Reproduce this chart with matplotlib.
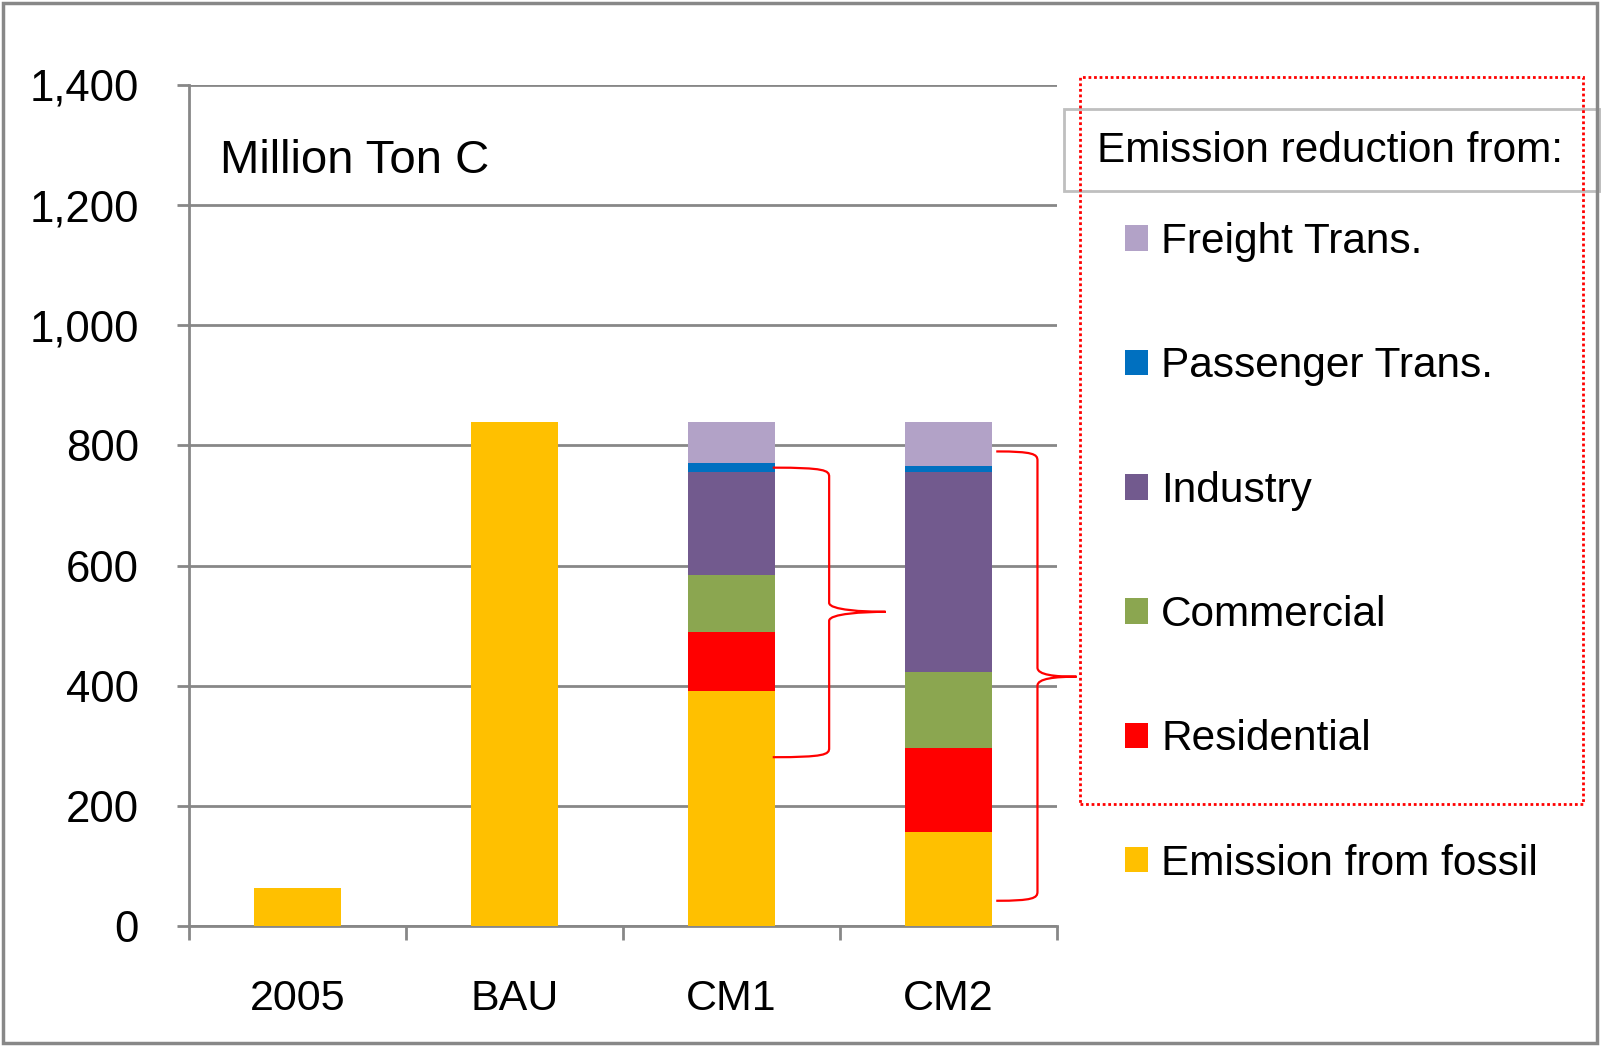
import numpy as np
import matplotlib
matplotlib.use("Agg")
import matplotlib.pyplot as plt
from matplotlib.path import Path
from matplotlib.patches import PathPatch, Rectangle
from matplotlib.ticker import FuncFormatter

plt.rcParams['font.family'] = ['Liberation Sans', 'DejaVu Sans']

categories = ["2005", "BAU", "CM1", "CM2"]
fossil = [63, 839, 391, 156]
residential = [0, 0, 98, 141]
commercial = [0, 0, 95, 125]
industry = [0, 0, 171, 333]
passenger = [0, 0, 16, 11]
freight = [0, 0, 68, 73]

series = [
    ("Emission from fossil", fossil, "#FFC000"),
    ("Residential", residential, "#FF0000"),
    ("Commercial", commercial, "#8BA650"),
    ("Industry", industry, "#725A8E"),
    ("Passenger Trans.", passenger, "#0070C0"),
    ("Freight Trans.", freight, "#B2A2C7"),
]

W, H = 1601, 1047
fig = plt.figure(figsize=(W / 100, H / 100), dpi=100)
ax = fig.add_axes([189 / W, 1 - 926 / H, (1057 - 189) / W, (926 - 85) / H])

x = np.arange(len(categories))
bottom = np.zeros(len(categories))
handles = []
for name, vals, col in series:
    b = ax.bar(x, vals, width=0.4, bottom=bottom, color=col, label=name, zorder=3)
    handles.append(b)
    bottom += np.array(vals)

grid = "#878787"
ax.set_xlim(-0.5, 3.5)
ax.set_ylim(0, 1400)
ax.set_yticks(np.arange(0, 1401, 200))
ax.yaxis.set_major_formatter(FuncFormatter(lambda v, p: f"{int(v):,}"))
ax.yaxis.grid(True, color=grid, lw=2, zorder=0)
ax.tick_params(axis="y", length=9, width=2, color=grid, labelsize=31.5, pad=27)

ax.set_xticks(np.arange(-0.5, 4, 1))
ax.set_xticklabels([])
ax.set_xticks(x, minor=True)
ax.set_xticklabels(categories, minor=True)
ax.tick_params(axis="x", which="major", length=10, width=2, color=grid)
ax.tick_params(axis="x", which="minor", length=0, labelsize=31, pad=38)

for s in ["top", "right"]:
    ax.spines[s].set_visible(False)
for s in ["left", "bottom"]:
    ax.spines[s].set_color(grid)
    ax.spines[s].set_linewidth(2)

ax.text(0.036, 0.91, "Million Ton C", transform=ax.transAxes, fontsize=34,
        va="center", ha="left")


def brace(x0, xv, xtip, ytop, ymid, ybot, r):
    verts = [
        (x0, ytop), (xv - 0.02, ytop), (xv, ytop - r * 0.3), (xv, ytop - r),
        (xv, ymid + r),
        (xv, ymid + r * 0.2), (xtip - 0.1, ymid), (xtip, ymid),
        (xtip - 0.1, ymid), (xv, ymid - r * 0.2), (xv, ymid - r),
        (xv, ybot + r),
        (xv, ybot + r * 0.3), (xv - 0.02, ybot), (x0, ybot),
    ]
    codes = [Path.MOVETO, Path.CURVE4, Path.CURVE4, Path.CURVE4,
             Path.LINETO,
             Path.CURVE4, Path.CURVE4, Path.CURVE4,
             Path.CURVE4, Path.CURVE4, Path.CURVE4,
             Path.LINETO,
             Path.CURVE4, Path.CURVE4, Path.CURVE4]
    ax.add_patch(PathPatch(Path(verts, codes), fill=False, ec="red", lw=1.6,
                           clip_on=False, zorder=5))


brace(2.19, 2.45, 2.71, 763, 523, 281, 15)
brace(3.22, 3.41, 3.59, 790, 415, 42, 15)

# legend
leg = fig.legend(handles=handles[::-1], loc="upper left",
                 bbox_to_anchor=(1104 / W, 1 - 201 / H), frameon=False,
                 fontsize=30.5, handlelength=0.55, handleheight=0.55,
                 handletextpad=0.3, labelspacing=1.99, borderpad=0)

# header box and dotted outline
fig.patches.append(Rectangle((1064 / W, 1 - 191 / H), (1600 - 1064) / W, 82 / H,
                             transform=fig.transFigure, fill=False, ec="#BFBFBF", lw=2))
fig.text(1097 / W, 1 - 151 / H, "Emission reduction from:", fontsize=30.5,
         va="center", ha="left")
fig.patches.append(Rectangle((1080 / W, 1 - 804 / H), (1583 - 1080) / W, (804 - 77) / H,
                             transform=fig.transFigure, fill=False, ec="red", lw=2,
                             ls=(0, (1, 1))))
fig.patches.append(Rectangle((3 / W, 4 / H), (1597 - 3) / W, (1044 - 4) / H,
                             transform=fig.transFigure, fill=False, ec="#888888", lw=2.5))

fig.savefig("out.png", dpi=100)
